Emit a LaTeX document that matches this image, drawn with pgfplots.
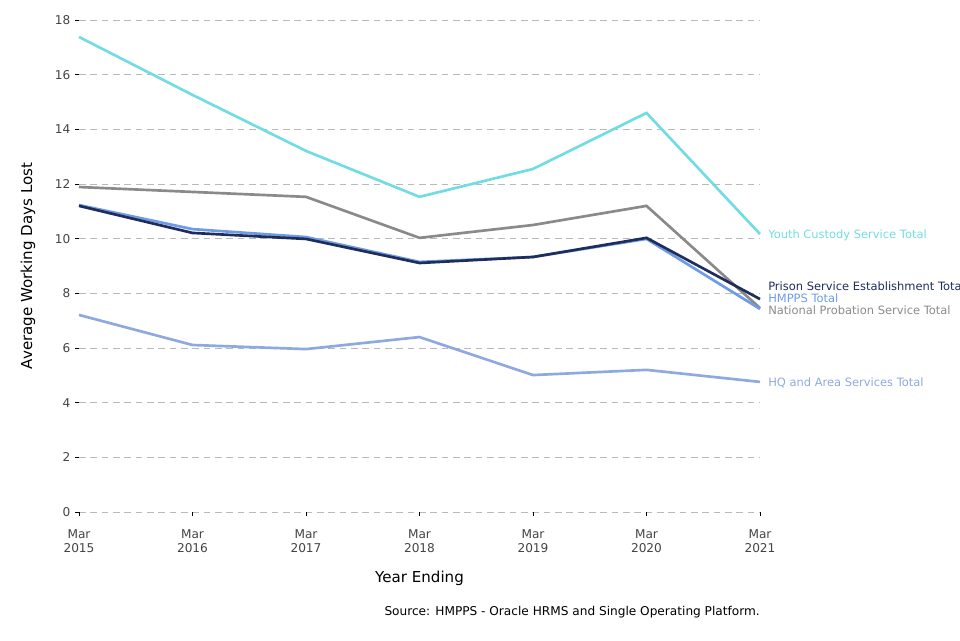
\documentclass[border=0pt]{standalone}
\usepackage{pgfplots}
\pgfplotsset{compat=1.18}
\usepackage{fontspec}
\setmainfont{DejaVu Sans}

\definecolor{youth}{HTML}{72DCE3}
\definecolor{nps}{HTML}{8A8A8A}
\definecolor{hmpps}{HTML}{6E9BE6}
\definecolor{prison}{HTML}{1E2D5C}
\definecolor{hq}{HTML}{8DA9DF}
\definecolor{ticktext}{HTML}{444444}

\begin{document}
\begin{tikzpicture}
  \useasboundingbox (-59.25pt,-96pt) rectangle (660.75pt,384pt);
  \begin{axis}[
      scale only axis,
      width=510.75pt, height=369pt,
      xmin=2015, xmax=2021,
      ymin=0, ymax=18,
      xtick={2015,2016,2017,2018,2019,2020,2021},
      xticklabels={{Mar\\2015},{Mar\\2016},{Mar\\2017},{Mar\\2018},{Mar\\2019},{Mar\\2020},{Mar\\2021}},
      ytick={0,2,4,6,8,10,12,14,16,18},
      xticklabel style={align=center, font=\fontsize{9.1}{10}\selectfont, text=ticktext, yshift=-7pt},
      yticklabel style={font=\fontsize{9.1}{10}\selectfont, text=ticktext},
      /pgf/number format/assume math mode=true,
      axis line style={draw=none},
      tick align=outside,
      major tick length=3pt,
      tick style={black, line width=0.6pt},
      xtick pos=bottom, ytick pos=left,
      ymajorgrids=true,
      grid style={gray!55, dash pattern=on 5pt off 3.5pt, line width=0.7pt},
      xlabel={Year Ending},
      ylabel={Average Working Days Lost},
      xlabel style={at={([yshift=-49.5pt]axis description cs:0.5,0)}, anchor=center, font=\fontsize{11.3}{12}\selectfont},
      ylabel style={at={([xshift=-38.25pt]axis description cs:0,0.5)}, anchor=center, font=\fontsize{11.3}{12}\selectfont},
      clip=false,
      every axis plot/.append style={line width=2pt, no markers},
  ]
  \addplot[color=nps] coordinates {
    (2015,11.89)(2016,11.71)(2017,11.53)(2018,10.03)(2019,10.50)(2020,11.20)(2021,7.46)
  };
  \addplot[color=youth] coordinates {
    (2015,17.38)(2016,15.26)(2017,13.21)(2018,11.53)(2019,12.55)(2020,14.60)(2021,10.17)
  };
  \addplot[color=hq] coordinates {
    (2015,7.21)(2016,6.11)(2017,5.96)(2018,6.40)(2019,5.01)(2020,5.20)(2021,4.76)
  };
  \addplot[color=hmpps] coordinates {
    (2015,11.23)(2016,10.35)(2017,10.06)(2018,9.15)(2019,9.33)(2020,9.99)(2021,7.43)
  };
  \addplot[color=prison] coordinates {
    (2015,11.20)(2016,10.21)(2017,9.99)(2018,9.11)(2019,9.33)(2020,10.03)(2021,7.79)
  };

  \begin{scope}[every node/.style={anchor=west, inner sep=0pt, font=\fontsize{8.6}{10}\selectfont}]
    \node[text=youth]  at (axis cs:2021,10.13) [xshift=6pt] {Youth Custody Service Total};
    \node[text=prison] at (axis cs:2021,8.27)  [xshift=6pt] {Prison Service Establishment Total};
    \node[text=hmpps]  at (axis cs:2021,7.83)  [xshift=6pt] {HMPPS Total};
    \node[text=nps]    at (axis cs:2021,7.39)  [xshift=6pt] {National Probation Service Total};
    \node[text=hq]     at (axis cs:2021,4.72)  [xshift=6pt] {HQ and Area Services Total};
  \end{scope}
  \end{axis}
  \node[anchor=east, inner sep=0pt, font=\fontsize{9.1}{10}\selectfont] at (510.75pt,-75pt) {Source: HMPPS - Oracle HRMS and Single Operating Platform.};
\end{tikzpicture}
\end{document}
